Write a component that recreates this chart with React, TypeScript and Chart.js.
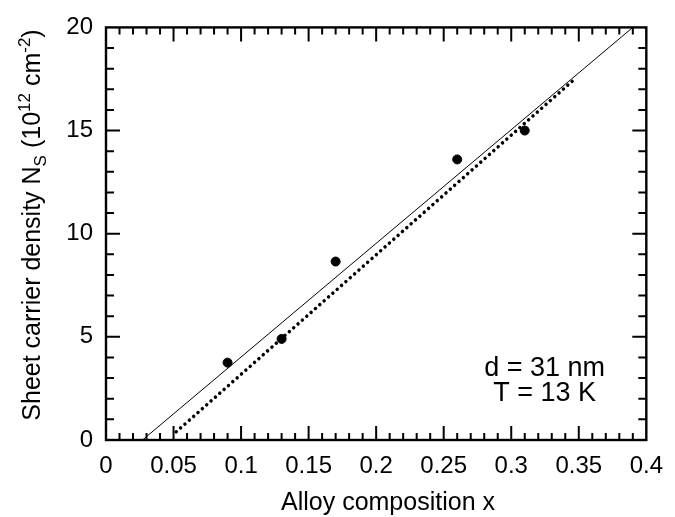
import React, { useEffect, useRef } from 'react';
import { Chart, registerables } from 'chart.js';

Chart.register(...registerables);

// ---- data ----
const compositionX = [0.09, 0.13, 0.17, 0.26, 0.31];
const densityNs = [3.75, 4.9, 8.65, 13.6, 15.0];
const solidFitX = [0.027, 0.39];
const solidFitY = [0, 20];
const dottedFitX = [0.052, 0.347];
const dottedFitY = [0.4, 17.5];
const xTickLabels = ['0', '0.05', '0.1', '0.15', '0.2', '0.25', '0.3', '0.35', '0.4'];
const yTickLabels = ['0', '5', '10', '15', '20'];
const annotationLines = ['d = 31 nm', 'T = 13 K'];
const xTitle = 'Alloy composition x';

const FONT = '"Liberation Sans", Arial, Helvetica, sans-serif';

const pairs = (xs: number[], ys: number[]) => xs.map((x, i) => ({ x, y: ys[i] }));

const framePlugin = {
  id: 'frame',
  afterDatasetsDraw(chart: any) {
    const { ctx, chartArea, scales } = chart;
    const { left, right, top, bottom } = chartArea;
    const xs = scales.x;
    const ys = scales.y;
    ctx.save();
    ctx.strokeStyle = '#000';
    ctx.lineWidth = 2;
    ctx.lineCap = 'butt';
    // x ticks (minor every 0.01, major every 0.05)
    for (let i = 1; i < 40; i++) {
      const px = xs.getPixelForValue(i * 0.01);
      const len = i % 5 === 0 ? 14 : 7;
      ctx.beginPath();
      ctx.moveTo(px, bottom);
      ctx.lineTo(px, bottom - len);
      ctx.moveTo(px, top);
      ctx.lineTo(px, top + len);
      ctx.stroke();
    }
    // y ticks (minor every 1, major every 5)
    for (let i = 1; i < 20; i++) {
      const py = ys.getPixelForValue(i);
      const len = i % 5 === 0 ? 14 : 8;
      ctx.beginPath();
      ctx.moveTo(left, py);
      ctx.lineTo(left + len, py);
      ctx.moveTo(right, py);
      ctx.lineTo(right - len, py);
      ctx.stroke();
    }
    ctx.lineWidth = 2.4;
    ctx.strokeRect(left, top, right - left, bottom - top);

    // annotation
    ctx.fillStyle = '#000';
    ctx.font = `27px ${FONT}`;
    ctx.textAlign = 'center';
    ctx.textBaseline = 'alphabetic';
    const ax = xs.getPixelForValue(0.3247);
    ctx.fillText(annotationLines[0], ax, ys.getPixelForValue(3.08));
    ctx.fillText(annotationLines[1], ax, ys.getPixelForValue(1.9));

    // x title
    ctx.font = `25px ${FONT}`;
    ctx.textBaseline = 'alphabetic';
    ctx.fillText(xTitle, 388, 510);

    // y title with sub/superscripts
    const segs = [
      { t: 'Sheet carrier density N', s: 25, dy: 0 },
      { t: 'S', s: 17, dy: 6 },
      { t: ' (10', s: 25, dy: 0 },
      { t: '12', s: 17, dy: -10 },
      { t: ' cm', s: 25, dy: 0 },
      { t: '-2', s: 17, dy: -10 },
      { t: ')', s: 25, dy: 0 },
    ];
    let total = 0;
    const widths = segs.map((g) => {
      ctx.font = `${g.s}px ${FONT}`;
      const w = ctx.measureText(g.t).width;
      total += w;
      return w;
    });
    ctx.translate(40, 225);
    ctx.rotate(-Math.PI / 2);
    ctx.textAlign = 'left';
    ctx.textBaseline = 'alphabetic';
    let cx = -total / 2;
    segs.forEach((g, i) => {
      ctx.font = `${g.s}px ${FONT}`;
      ctx.fillText(g.t, cx, g.dy);
      cx += widths[i];
    });
    ctx.restore();
  },
};

export default function App() {
  const canvasRef = useRef<HTMLCanvasElement | null>(null);

  useEffect(() => {
    if (!canvasRef.current) return;
    const chart = new Chart(canvasRef.current, {
      type: 'scatter',
      data: {
        datasets: [
          {
            label: 'Measured',
            data: pairs(compositionX, densityNs),
            backgroundColor: '#000',
            borderColor: '#000',
            pointRadius: 4.5,
            pointHoverRadius: 4.5,
            showLine: false,
            order: 0,
          },
          {
            label: 'Fit solid',
            data: pairs(solidFitX, solidFitY),
            showLine: true,
            borderColor: '#000',
            borderWidth: 1,
            pointRadius: 0,
            order: 1,
          },
          {
            label: 'Fit dotted',
            data: pairs(dottedFitX, dottedFitY),
            showLine: true,
            borderColor: '#000',
            borderWidth: 3.5,
            borderCapStyle: 'round',
            borderDash: [0.01, 5.8],
            pointRadius: 0,
            order: 2,
          },
        ] as any,
      },
      options: {
        animation: false,
        responsive: true,
        maintainAspectRatio: false,
        layout: { padding: { top: 18, right: 22, left: 0, bottom: 0 } },
        plugins: {
          legend: { display: false },
          tooltip: { enabled: false },
          title: { display: false },
        },
        scales: {
          x: {
            type: 'linear',
            min: 0,
            max: 0.4,
            grid: { display: false, drawTicks: false },
            border: { display: false },
            ticks: {
              stepSize: 0.05,
              padding: 12,
              color: '#000',
              font: { family: FONT, size: 24 },
              maxRotation: 0,
              autoSkip: false,
              callback: (v: any) => {
                const hit = xTickLabels.find((l) => Math.abs(parseFloat(l) - Number(v)) < 1e-6);
                return hit ?? '';
              },
            },
            afterFit: (s: any) => {
              s.height = 77;
            },
          },
          y: {
            type: 'linear',
            min: 0,
            max: 20,
            grid: { display: false, drawTicks: false },
            border: { display: false },
            ticks: {
              stepSize: 5,
              padding: 13,
              color: '#000',
              font: { family: FONT, size: 24 },
              callback: (v: any) => {
                const hit = yTickLabels.find((l) => Math.abs(parseFloat(l) - Number(v)) < 1e-6);
                return hit ?? '';
              },
            },
            afterFit: (s: any) => {
              s.width = 106;
            },
          },
        },
      },
      plugins: [framePlugin],
    });
    return () => chart.destroy();
  }, []);

  return (
    <div style={{ position: 'fixed', left: 0, top: 0, width: 675, height: 517, background: '#fff' }}>
      <canvas ref={canvasRef} />
    </div>
  );
}
